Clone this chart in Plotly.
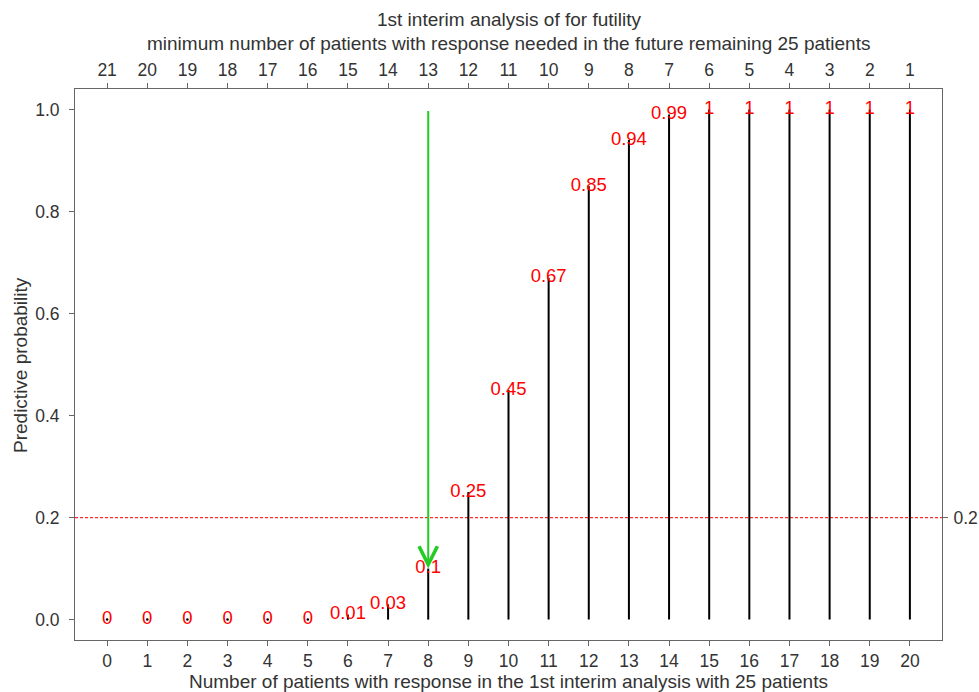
import plotly.graph_objects as go

# Responders observed at the 1st interim analysis (25 patients)
responders = list(range(0, 21))
# Predictive probability of success for each responder count
pred_prob = [0, 0, 0, 0, 0, 0, 0.01, 0.03, 0.1, 0.25, 0.45, 0.67,
             0.85, 0.94, 0.99, 1, 1, 1, 1, 1, 1]
prob_labels = ["0", "0", "0", "0", "0", "0", "0.01", "0.03", "0.1", "0.25",
               "0.45", "0.67", "0.85", "0.94", "0.99", "1", "1", "1", "1", "1", "1"]
# Minimum responders still needed among the remaining 25 patients
needed_labels = [str(v) for v in range(21, 0, -1)]

futility_cut = 0.2
arrow_x = 8
arrow_from = 1.0
arrow_to = 0.1

X_RANGE = [-0.8, 20.8]
Y_RANGE = [-0.04, 1.04]
FONT = "Liberation Sans, Arial, Helvetica, sans-serif"
AXIS_COLOR = "#666666"
TEXT_COLOR = "#333333"

# vertical "h"-type lines built from the data
seg_x, seg_y = [], []
for x, p in zip(responders, pred_prob):
    seg_x += [x, x, None]
    seg_y += [0, p, None]

zero_x = [x for x, p in zip(responders, pred_prob) if p == 0]
zero_y = [0 for _ in zero_x]

fig = go.Figure()

# futility threshold
fig.add_trace(go.Scatter(
    x=X_RANGE, y=[futility_cut, futility_cut], mode="lines",
    line=dict(color="#ff2a2a", width=1.2, dash="3px,2px"),
    hoverinfo="skip", showlegend=False))

fig.add_trace(go.Scatter(
    x=seg_x, y=seg_y, mode="lines",
    line=dict(color="black", width=2),
    hoverinfo="skip", showlegend=False))

fig.add_trace(go.Scatter(
    x=zero_x, y=zero_y, mode="markers",
    marker=dict(color="black", size=2.5),
    hoverinfo="skip", showlegend=False))

fig.add_trace(go.Scatter(
    x=responders, y=pred_prob, mode="text", text=prob_labels,
    textposition="middle center",
    textfont=dict(color="#ff0000", size=18.5, family=FONT),
    hoverinfo="skip", showlegend=False))

# invisible trace to activate the top axis
fig.add_trace(go.Scatter(
    x=responders, y=pred_prob, xaxis="x2", mode="markers",
    marker=dict(opacity=0), hoverinfo="skip", showlegend=False))
# invisible trace to activate the right axis
fig.add_trace(go.Scatter(
    x=[arrow_x], y=[futility_cut], yaxis="y2", mode="markers",
    marker=dict(opacity=0), hoverinfo="skip", showlegend=False))

fig.add_annotation(
    x=arrow_x, y=arrow_to, ax=arrow_x, ay=arrow_from,
    xref="x", yref="y", axref="x", ayref="y",
    showarrow=True, arrowhead=5, arrowsize=1.8, arrowwidth=2,
    arrowcolor="#22cc22", standoff=0, text="")

W, H = 979, 692
ML, MR, MT, MB = 75, 37, 89, 52
pw = W - ML - MR
ph = H - MT - MB

def paper_y(px):
    return 1 + (MT - px) / ph

def paper_x(px):
    return (px - ML) / pw

title_font = dict(size=19, color=TEXT_COLOR, family=FONT)

fig.add_annotation(
    x=0.5, y=paper_y(19), xref="paper", yref="paper",
    text="1st interim analysis of for futility", showarrow=False,
    font=title_font, yanchor="middle")
fig.add_annotation(
    x=0.5, y=paper_y(44), xref="paper", yref="paper",
    text="minimum number of patients with response needed in the future remaining 25 patients",
    showarrow=False, font=title_font, yanchor="middle")
fig.add_annotation(
    x=0.5, y=paper_y(681), xref="paper", yref="paper",
    text="Number of patients with response in the 1st interim analysis with 25 patients",
    showarrow=False, font=title_font, yanchor="middle")
fig.add_annotation(
    x=paper_x(20), y=paper_y(365), xref="paper", yref="paper",
    text="Predictive probability", textangle=-90,
    showarrow=False, font=title_font, xanchor="center", yanchor="middle")

tick_font = dict(size=17.5, color=TEXT_COLOR, family=FONT)

common = dict(ticks="outside", ticklen=5, tickcolor=AXIS_COLOR, tickfont=tick_font,
              showline=True, linecolor=AXIS_COLOR, linewidth=1, showgrid=False,
              zeroline=False, automargin=False)

fig.update_layout(
    width=W, height=H,
    margin=dict(l=ML, r=MR, t=MT, b=MB),
    paper_bgcolor="white", plot_bgcolor="white",
    font=dict(family=FONT, color=TEXT_COLOR),
    xaxis=dict(range=X_RANGE, tickvals=responders,
               ticktext=[str(v) for v in responders],
               ticklabelstandoff=0, **common),
    xaxis2=dict(range=X_RANGE, overlaying="x", side="top", anchor="y",
                tickvals=responders, ticktext=needed_labels,
                ticklabelstandoff=0, **common),
    yaxis=dict(range=Y_RANGE, tickvals=[0, 0.2, 0.4, 0.6, 0.8, 1.0],
               tickformat=".1f", ticklabelstandoff=6, **common),
    yaxis2=dict(range=Y_RANGE, overlaying="y", side="right", anchor="x",
                tickvals=[futility_cut], ticktext=[str(futility_cut)],
                ticklabelstandoff=2, **common),
)

fig.write_html("out.html")
